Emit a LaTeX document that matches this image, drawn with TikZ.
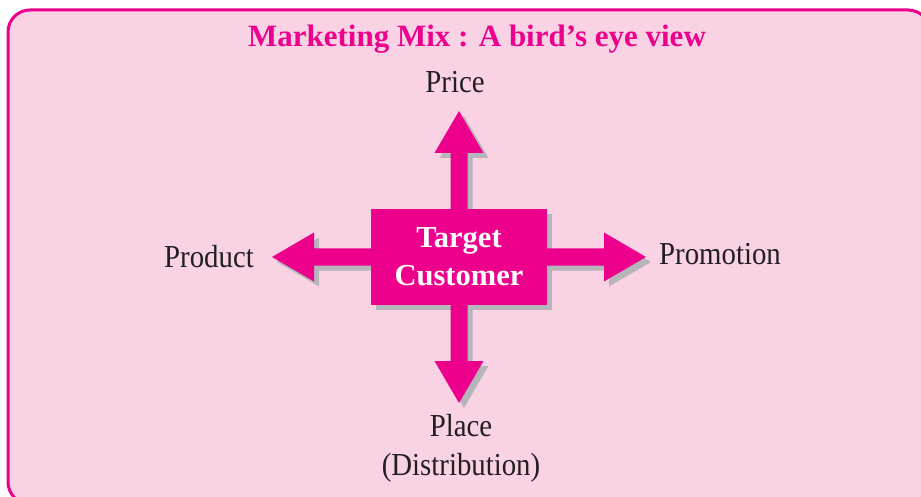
\documentclass[tikz,border=0pt]{standalone}
\usepackage{fontspec}
\setmainfont{Liberation Serif}
\newfontfamily\labfont{Liberation Serif}[FakeStretch=0.9]
\usetikzlibrary{calc}
\definecolor{mag}{HTML}{EC008C}
\definecolor{bgpink}{HTML}{F9D3E4}
\definecolor{shadowc}{HTML}{B5B5BA}
\definecolor{ink}{HTML}{231F20}
\tikzset{
  lab/.style={font=\labfont\fontsize{32}{38}\selectfont, text=ink, inner sep=0pt, anchor=base},
  boxnode/.style={fill=mag, minimum width=176pt, minimum height=96pt, inner sep=0pt,
    align=center, text=white, font=\bfseries\fontsize{30.5}{38}\selectfont},
  shadowed/.style={fill=shadowc, shift={(5pt,-5pt)}},
  magfill/.style={fill=mag},
}
\newcommand\blockarrow[3]{%
  \path let \p1=(#1), \p2=(#2), \n1={atan2(\y2-\y1,\x2-\x1)}, \n2={veclen(\x2-\x1,\y2-\y1)} in
    [#3, shift={(\p1)}, rotate=\n1]
    (0pt,-8.5pt) -- (\n2-42pt,-8.5pt) -- (\n2-42pt,-24.5pt) -- (\n2,0pt)
    -- (\n2-42pt,24.5pt) -- (\n2-42pt,8.5pt) -- (0pt,8.5pt) -- cycle;}
\begin{document}
\begin{tikzpicture}[x=1pt,y=-1pt]
\useasboundingbox (0,0) rectangle (921,497);
\draw[mag, line width=3pt, fill=bgpink, rounded corners=22pt] (8,10) rectangle (930,504);
\node[font=\bfseries\fontsize{31}{36}\selectfont, text=mag, anchor=base, inner sep=0pt] (title) at (477,47) {Marketing Mix : A bird’s eye view};
\node[boxnode] (tc) at (459,257) {Target\\Customer};
\coordinate (tup) at (459,111);
\coordinate (tdown) at (459,403);
\coordinate (tleft) at (272,257);
\coordinate (tright) at (646,257);
% shadows
\blockarrow{tc.north}{tup}{shadowed}
\blockarrow{tc.south}{tdown}{shadowed}
\blockarrow{tc.west}{tleft}{shadowed}
\blockarrow{tc.east}{tright}{shadowed}
\fill[shadowc] ([shift={(5pt,-5pt)}]tc.south west) rectangle ([shift={(5pt,-5pt)}]tc.north east);
% arrows
\blockarrow{tc.north}{tup}{magfill}
\blockarrow{tc.south}{tdown}{magfill}
\blockarrow{tc.west}{tleft}{magfill}
\blockarrow{tc.east}{tright}{magfill}
\node[boxnode] at (tc.center) {Target\\Customer};
\node[lab] (price) at (455,93) {Price};
\node[lab] (product) at (209,267) {Product};
\node[lab] (promotion) at (720,264) {Promotion};
\node[lab] (place) at (461,436) {Place};
\node[lab] (distribution) at (461,475) {(Distribution)};
\end{tikzpicture}
\end{document}
